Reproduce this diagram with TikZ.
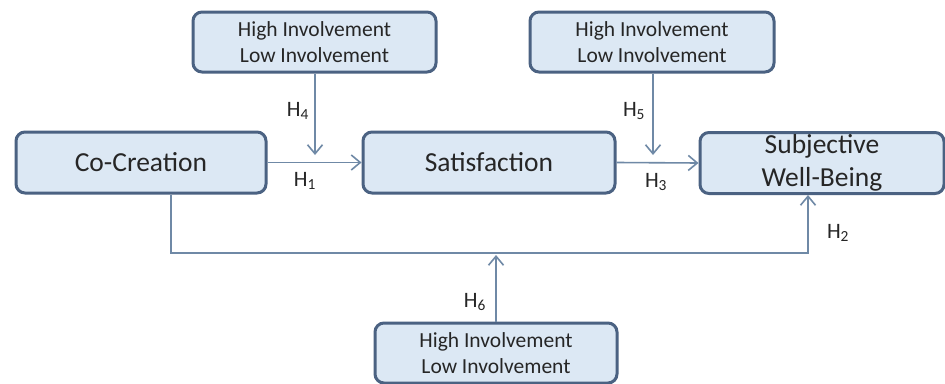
\documentclass[tikz,border=0pt]{standalone}
\usepackage{fontspec}
\setmainfont{Carlito}
\usetikzlibrary{arrows.meta}
\definecolor{boxfill}{HTML}{DCE8F4}
\definecolor{boxedge}{HTML}{4B6282}
\definecolor{linecol}{HTML}{6F89A6}
\definecolor{txt}{HTML}{262626}
\tikzset{
  bigbox/.style={draw=boxedge, line width=3pt, fill=boxfill, rounded corners=9pt,
    minimum height=61pt, inner sep=0pt, align=center, text=txt,
    font=\fontsize{27.5}{33}\selectfont},
  modbox/.style={draw=boxedge, line width=3pt, fill=boxfill, rounded corners=9pt,
    minimum width=243pt, minimum height=60pt, inner sep=0pt, align=center, text=txt,
    font=\fontsize{21.5}{26}\selectfont},
  conn/.style={draw=linecol, line width=1.6pt},
  arr/.style={conn, -{Straight Barb[length=9pt,width=15pt]}},
  hlab/.style={text=txt, font=\fontsize{22}{24}\selectfont, inner sep=0pt}
}
\begin{document}
\begin{tikzpicture}[x=1pt,y=-1pt]
\useasboundingbox (0,0) rectangle (945,383);
\fill[white] (0,0) rectangle (945,383);
% main boxes
\node[bigbox, minimum width=250pt] (cc) at (141,162.5) {Co-Creation};
\node[bigbox, minimum width=252pt] (sat) at (489,162.5) {Satisfaction};
\node[bigbox, minimum width=244pt] (swb) at (822,163) {Subjective\\Well-Being};
% moderator boxes
\node[modbox] (m1) at (314.5,42) {High Involvement\\Low Involvement};
\node[modbox, minimum width=244pt] (m2) at (652,42) {High Involvement\\Low Involvement};
\node[modbox, minimum width=242pt] (m3) at (496,353) {High Involvement\\Low Involvement};
% coordinates
\coordinate (t4) at (315,155);
\coordinate (t5) at (653,155);
\coordinate (b1) at (171,253);
\coordinate (b2) at (808,253);
\coordinate (t6) at (496,255);
% connectors
\draw[arr] (cc.east) -- (sat.west);
\draw[arr] (sat.east) -- (swb.west);
\draw[arr] (m1.south -| t4) -- (t4);
\draw[arr] (m2.south -| t5) -- (t5);
\draw[arr] (cc.south -| b1) -- (b1) -- (b2) -- (swb.south -| b2);
\draw[arr] (m3.north -| t6) -- (t6);
% labels
\node[hlab] (h4) at (298,111) {H\textsubscript{4}};
\node[hlab] (h1) at (305,181) {H\textsubscript{1}};
\node[hlab] (h5) at (634,111) {H\textsubscript{5}};
\node[hlab] (h3) at (656,182) {H\textsubscript{3}};
\node[hlab] (h2) at (838,233) {H\textsubscript{2}};
\node[hlab] (h6) at (475,302) {H\textsubscript{6}};
\end{tikzpicture}
\end{document}
